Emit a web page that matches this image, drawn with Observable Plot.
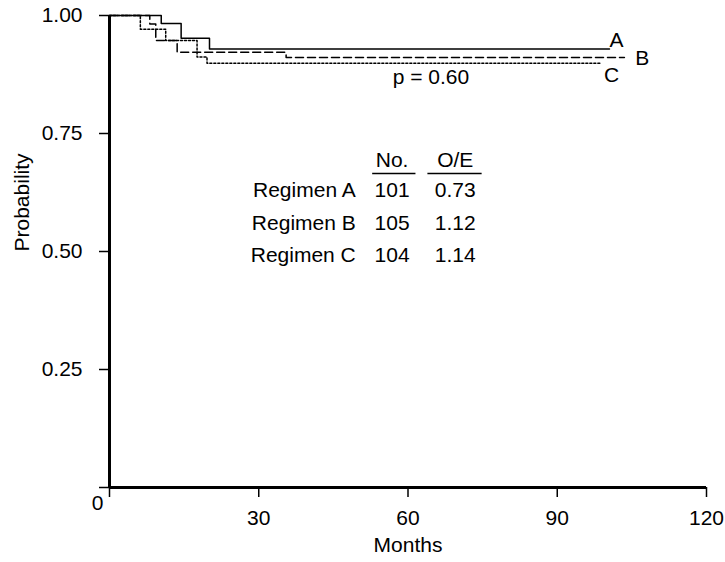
<!DOCTYPE html>
<html><head><meta charset="utf-8">
<script src="https://cdn.jsdelivr.net/npm/d3@7"></script>
<script src="https://cdn.jsdelivr.net/npm/@observablehq/plot@0.6"></script>
<style>body{margin:0;background:#fff}</style>
</head><body><div id="chart"></div>
<script>
// Kaplan-Meier step data (months, survival probability)
const monthsA = [0, 10.4, 14.4, 20.1, 100.5];
const survA   = [1, 0.983, 0.952, 0.929, 0.929];
const monthsB = [0, 8.1, 9.3, 13.6, 35.5, 103.5];
const survB   = [1, 0.982, 0.947, 0.922, 0.911, 0.911];
const monthsC = [0, 6.2, 11.3, 17.6, 19.6, 98.8];
const survC   = [1, 0.971, 0.947, 0.912, 0.899, 0.899];

const curveLabels = ["A", "B", "C"];
const regimens = ["Regimen A", "Regimen B", "Regimen C"];
const counts = ["101", "105", "104"];
const oeRatios = ["0.73", "1.12", "1.14"];
const headers = ["No.", "O/E"];
const pText = ["p = 0.60"];
const xTicks = [0, 30, 60, 90, 120];
const yTicks = [0, 0.25, 0.5, 0.75, 1];

const rows = (ms, ps) => ms.map((m, i) => ({month: m, prob: ps[i]}));
const font = "'Liberation Sans', Arial, Helvetica, sans-serif";

const chart = Plot.plot({
  width: 725, height: 562,
  marginLeft: 109, marginRight: 19, marginTop: 15, marginBottom: 75,
  style: {fontFamily: font, fontSize: "21px", color: "#000", background: "#fff", overflow: "visible"},
  x: {domain: [0, 120]},
  y: {domain: [0, 1]},
  marks: [
    Plot.axisY({ticks: yTicks, tickFormat: d => d === 0 ? "" : d.toFixed(2), tickSize: 10, tickPadding: 17, label: null, strokeWidth: 1.5, fontSize: 21}),
    Plot.axisX({ticks: xTicks, tickFormat: d => d === 0 ? "" : String(d), tickSize: 10, tickPadding: 13, label: null, strokeWidth: 1.5, fontSize: 21}),
    Plot.ruleX([0], {strokeWidth: 3}),
    Plot.ruleY([0], {strokeWidth: 3}),
    Plot.text([0], {x: d => d, y: d => d, text: d => String(d), dx: -12, dy: 16, fontSize: 21}),
    Plot.text(["Months"], {frameAnchor: "bottom", dy: 64, fontSize: 21, dx: 0, letterSpacing: 0.5}),
    Plot.text(["Probability"], {frameAnchor: "left", rotate: -90, dx: -87, fontSize: 21}),
    // curves
    Plot.line(rows(monthsC, survC), {x: "month", y: "prob", curve: "step-after", stroke: "#000", strokeWidth: 1.5, strokeDasharray: "2,2"}),
    Plot.line(rows(monthsB, survB), {x: "month", y: "prob", curve: "step-after", stroke: "#000", strokeWidth: 1.5, strokeDasharray: "8,4"}),
    Plot.line(rows(monthsA, survA), {x: "month", y: "prob", curve: "step-after", stroke: "#000", strokeWidth: 1.5}),
    // curve labels
    Plot.text(curveLabels, {x: (d, i) => [101.9, 107.1, 100.9][i], y: (d, i) => [0.947, 0.909, 0.873][i], text: d => d, fontSize: 21}),
    Plot.text(pText, {x: 64.6, y: 0.869, text: d => d, fontSize: 21}),
    // table
    Plot.text(headers, {x: (d, i) => [56.8, 69.5][i], y: 0.693, text: d => d, fontSize: 21}),
    Plot.ruleY([0, 1], {y: 0.665, x1: (d, i) => [52.9, 64.0][i], x2: (d, i) => [61.6, 74.9][i], strokeWidth: 1.5}),
    Plot.text(regimens, {x: 49.5, y: (d, i) => 0.629 - i * 0.0688, text: d => d, textAnchor: "end", fontSize: 21, letterSpacing: 0.4}),
    Plot.text(counts, {x: 56.8, y: (d, i) => 0.629 - i * 0.0688, text: d => d, fontSize: 21}),
    Plot.text(oeRatios, {x: 69.5, y: (d, i) => 0.629 - i * 0.0688, text: d => d, fontSize: 21})
  ]
});
document.getElementById("chart").appendChild(chart);
</script>
</body></html>
